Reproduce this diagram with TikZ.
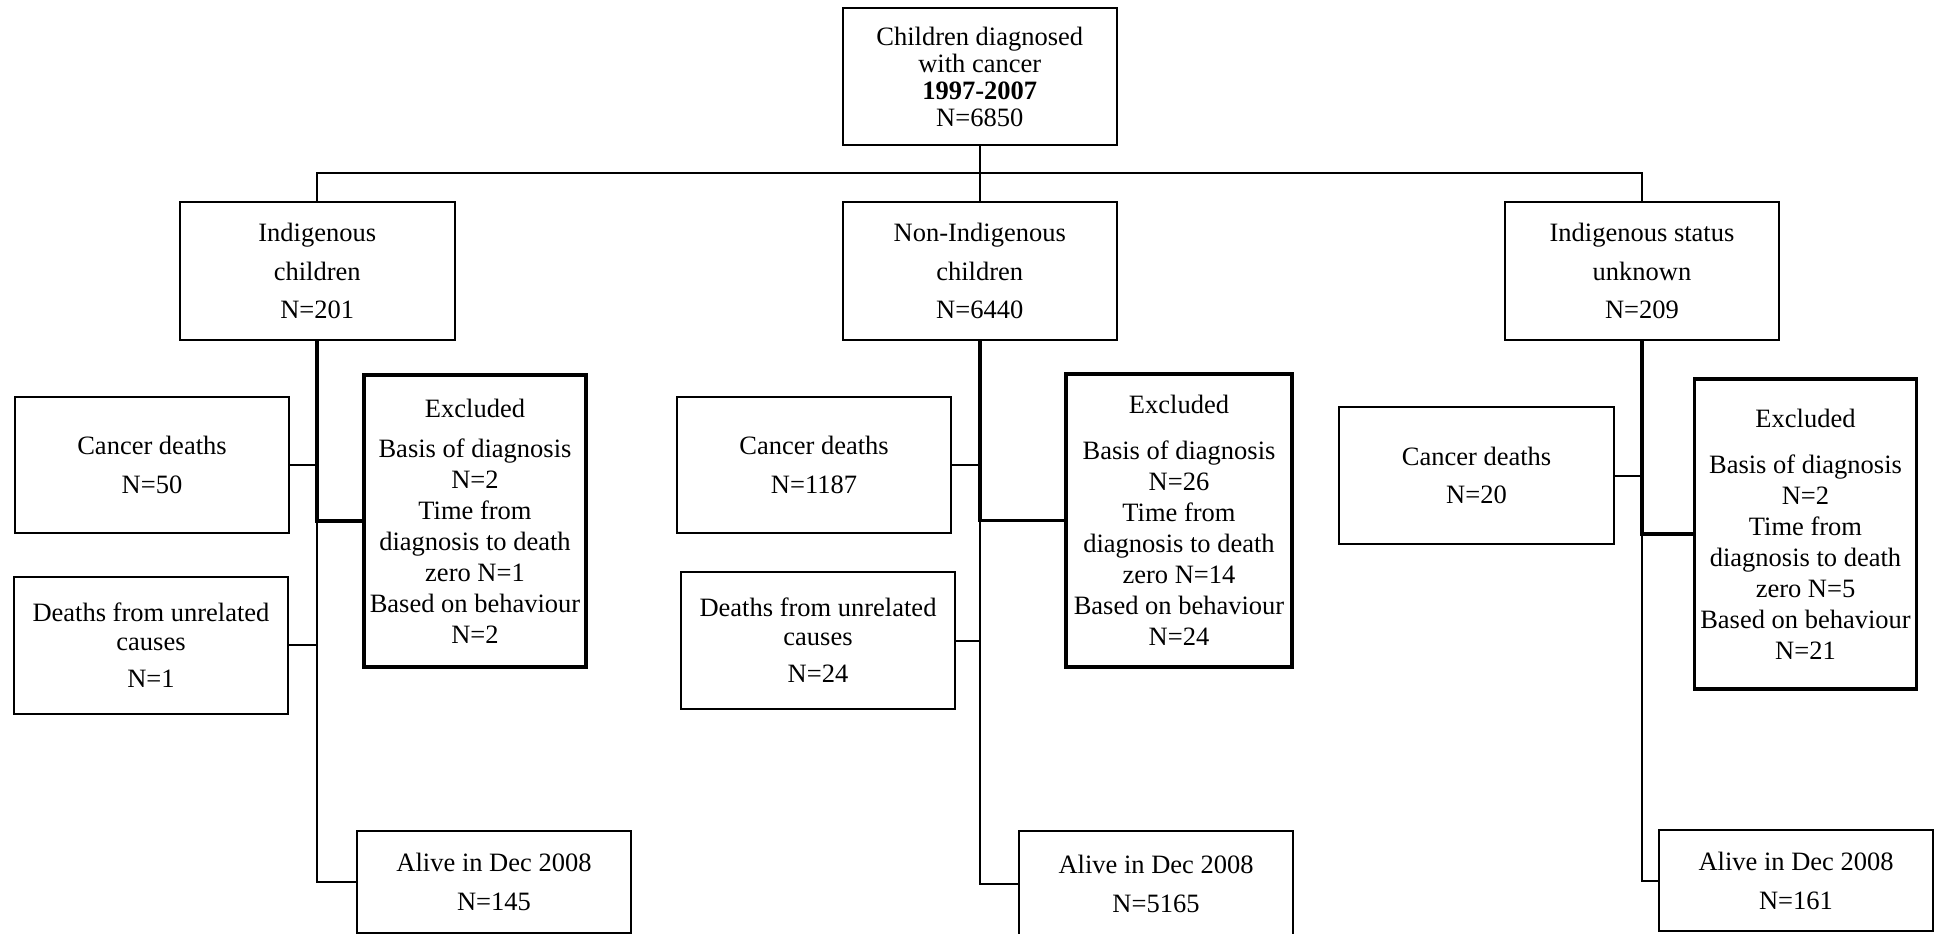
\documentclass[tikz,border=0pt]{standalone}
\usepackage{fontspec}
\setmainfont{Liberation Serif}
\begin{document}
\begin{tikzpicture}[x=0.5pt,y=-0.5pt,
  line join=miter,
  box/.style={draw, line width=1pt, inner sep=0pt, outer sep=0pt, align=center,
              font=\fontsize{13.25}{15.5}\selectfont},
  xbox/.style={box, line width=1.9pt},
  thinl/.style={line width=1pt},
  thickl/.style={line width=1.9pt}]
\useasboundingbox (0,0) rectangle (1941,933);

% top level
\node[box, minimum width=136.75pt, minimum height=68.5pt,
      font=\fontsize{13.25}{13.5}\selectfont] (top) at (979.75,76.5)
  {Children diagnosed\\with cancer\\\textbf{1997-2007}\\N=6850};

\node[box, minimum width=137.25pt, minimum height=69pt,
      font=\fontsize{13.25}{19.25}\selectfont] (ind) at (317.25,271)
  {Indigenous\\children\\N=201};
\node[box, minimum width=136.75pt, minimum height=69pt,
      font=\fontsize{13.25}{19.25}\selectfont] (non) at (979.75,271)
  {Non-Indigenous\\children\\N=6440};
\node[box, minimum width=137pt, minimum height=69pt,
      font=\fontsize{13.25}{19.25}\selectfont] (unk) at (1642,271)
  {Indigenous status\\unknown\\N=209};

% left column
\node[box, minimum width=137pt, minimum height=68pt,
      font=\fontsize{13.25}{19.3}\selectfont] (cdL) at (152,465)
  {Cancer deaths\\N=50};
\node[xbox, minimum width=111pt, minimum height=146pt] (exL) at (475,521)
  {Excluded\\[4.5pt]Basis of diagnosis\\N=2\\Time from\\diagnosis to death\\zero N=1\\Based on behaviour\\N=2};
\node[box, minimum width=137pt, minimum height=68.3pt,
      font=\fontsize{13.25}{14.5}\selectfont] (duL) at (151,645.3)
  {Deaths from unrelated\\causes\\[4pt]N=1};
\node[box, minimum width=137pt, minimum height=51pt,
      font=\fontsize{13.25}{19.5}\selectfont] (alL) at (494,882)
  {Alive in Dec 2008\\N=145};

% middle column
\node[box, minimum width=137pt, minimum height=68pt,
      font=\fontsize{13.25}{19.3}\selectfont] (cdM) at (814,465)
  {Cancer deaths\\N=1187};
\node[xbox, minimum width=113pt, minimum height=146.5pt] (exM) at (1179,520.5)
  {Excluded\\[7.5pt]Basis of diagnosis\\N=26\\Time from\\diagnosis to death\\zero N=14\\Based on behaviour\\N=24};
\node[box, minimum width=137pt, minimum height=68.5pt,
      font=\fontsize{13.25}{14.5}\selectfont] (duM) at (818,640.5)
  {Deaths from unrelated\\causes\\[4pt]N=24};
\node[box, minimum width=137pt, minimum height=53pt,
      font=\fontsize{13.25}{19.5}\selectfont] (alM) at (1156,884)
  {Alive in Dec 2008\\N=5165};

% right column
\node[box, minimum width=137.5pt, minimum height=68.5pt,
      font=\fontsize{13.25}{19.3}\selectfont] (cdR) at (1476.5,475.5)
  {Cancer deaths\\N=20};
\node[xbox, minimum width=111pt, minimum height=155pt] (exR) at (1805.5,534)
  {Excluded\\[7.5pt]Basis of diagnosis\\N=2\\Time from\\diagnosis to death\\zero N=5\\Based on behaviour\\N=21};
\node[box, minimum width=137pt, minimum height=50.5pt,
      font=\fontsize{13.25}{19.5}\selectfont] (alR) at (1796,880.5)
  {Alive in Dec 2008\\N=161};

% top connectors
\coordinate (busL) at (317.25,173);
\coordinate (busR) at (1642,173);
\draw[thinl] (top.south) -- (non.north);
\draw[thinl] (ind.north) -- (busL) -- (busR) -- (unk.north);

% left spine
\draw[thickl] (ind.south) |- (exL.west);
\draw[thinl] (ind.south |- exL.west) |- (alL.west);
\draw[thinl] (cdL.east) -- (cdL.east -| ind.south);
\draw[thinl] (duL.east) -- (duL.east -| ind.south);

% middle spine
\draw[thickl] (non.south) |- (exM.west);
\draw[thinl] (non.south |- exM.west) |- (alM.west);
\draw[thinl] (cdM.east) -- (cdM.east -| non.south);
\draw[thinl] (duM.east) -- (duM.east -| non.south);

% right spine
\draw[thickl] (unk.south) |- (exR.west);
\draw[thinl] (unk.south |- exR.west) |- (alR.west);
\draw[thinl] (cdR.east) -- (cdR.east -| unk.south);
\end{tikzpicture}
\end{document}
